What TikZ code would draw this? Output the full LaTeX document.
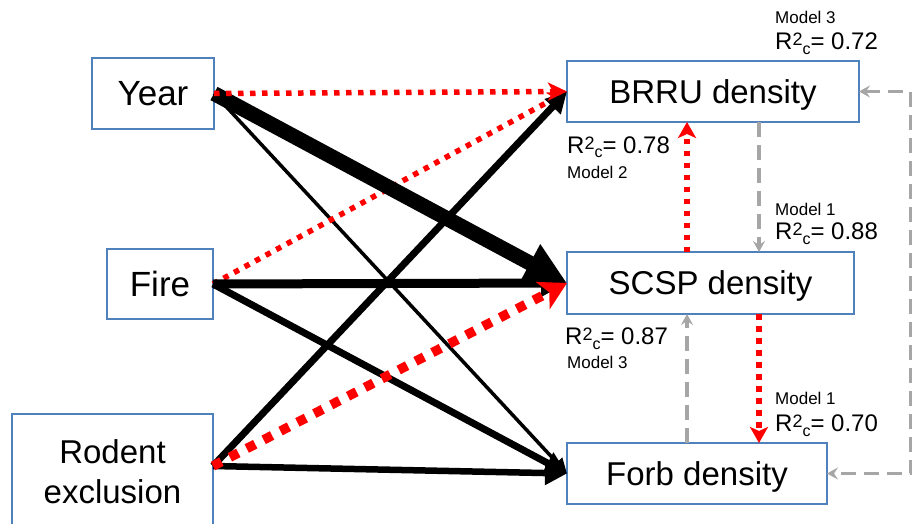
\documentclass[tikz,border=0pt]{standalone}
\usepackage{fontspec}
\setmainfont{Liberation Sans}
\usetikzlibrary{arrows.meta}
\definecolor{boxblue}{RGB}{79,129,189}
\definecolor{dashgray}{RGB}{166,166,166}
% conditional R^2 with the superscript 2 and subscript c side by side
\newcommand{\rcsq}[1]{R\raisebox{4pt}{\fontsize{18}{18}\selectfont 2}\raisebox{-5pt}{\fontsize{16}{16}\selectfont c}= #1}
\tikzset{
  graytip/.tip={Stealth[length=11pt,width=12pt,inset=4pt]},
  redtip/.tip={Stealth[length=19pt,width=18pt,inset=5pt]},
}
\begin{document}
\begin{tikzpicture}[x=1pt,y=-1pt,
  box/.style={draw=boxblue, line width=1.2pt, inner sep=0pt, outer sep=0pt},
  bigtxt/.style={font=\fontsize{33}{40}\selectfont, text height=23.6pt, text depth=0pt},
  hugetxt/.style={font=\fontsize{35}{42}\selectfont, text height=25pt, text depth=0pt},
  rlab/.style={anchor=base west, inner sep=0pt, font=\fontsize{24}{28}\selectfont},
  mlab/.style={anchor=base west, inner sep=0pt, font=\fontsize{17}{20}\selectfont},
  blk/.style={draw=black, line cap=butt},
  reddot/.style={draw=red, line width=5.5pt, dash pattern=on 5.5pt off 6.5pt, -redtip},
  redbig/.style={draw=red, line width=9.5pt, dash pattern=on 9.5pt off 9.5pt,
    -{Stealth[length=27pt,width=30pt,inset=7pt]}},
  graydash/.style={draw=dashgray, line width=3.5pt, dash pattern=on 15pt off 8pt},
]
\useasboundingbox (0,0) rectangle (912,524);

% driver boxes
\node[box, hugetxt, minimum width=122pt, minimum height=71pt] (year) at (153,93.5) {Year};
\node[box, hugetxt, minimum width=106pt, minimum height=70pt] (fire) at (160,284) {Fire};
\node[box, minimum width=201pt, minimum height=124pt] (rodent) at (112.5,476) {};
\node[font=\fontsize{33}{40}\selectfont, align=center, inner sep=0pt] (rodtext) at (112.5,472) {Rodent\\exclusion};

% response boxes
\node[box, bigtxt, minimum width=292pt, minimum height=61pt] (brru) at (713,91.5) {BRRU density};
\node[box, bigtxt, minimum width=287pt, minimum height=62pt] (scsp) at (710.5,283) {SCSP density};
\node[box, bigtxt, minimum width=260pt, minimum height=61pt] (forb) at (697,473.5) {Forb density};

% connector anchor points
\path (rodent.east) ++(0,-10) coordinate (rodout);
\coordinate (xa) at (687,0);
\coordinate (xb) at (759,0);
\coordinate (xr) at (911,0);

% positive (solid black) paths
\draw[blk, line width=3.5pt, -{Triangle[length=15pt,width=14pt]}] (year.east) -- (forb.west);
\draw[reddot] (fire.east) -- (brru.west);
\draw[blk, line width=7pt, -{Triangle[length=21pt,width=21pt]}] (rodout) -- (brru.west);
\draw[blk, line width=6.5pt, -{Triangle[length=22pt,width=23pt]}] (rodout) -- (forb.west);
\draw[blk, line width=7pt, -{Triangle[length=22pt,width=23pt]}] (fire.east) -- (forb.west);
\draw[blk, line width=9pt, -{Triangle[length=26pt,width=26pt]}] (fire.east) -- (scsp.west);
\draw[blk, line width=15pt, -{Triangle[length=42pt,width=40pt]}] (year.east) -- (scsp.west);

% negative (red dotted) paths
\draw[redbig] (rodout) -- (scsp.west);
\draw[reddot] (year.east) -- (brru.west);
\draw[reddot, -{Stealth[length=16pt,width=18pt,inset=4pt]}] (scsp.north -| xa) -- (brru.south -| xa);
\draw[reddot, -{Stealth[length=16pt,width=18pt,inset=4pt]}] (scsp.south -| xb) -- (forb.north -| xb);

% non-significant (grey dashed) paths
\draw[graydash, -graytip] (brru.south -| xb) -- (scsp.north -| xb);
\draw[graydash, -graytip] (forb.north -| xa) -- (scsp.south -| xa);
\draw[graydash, graytip-graytip] (brru.east) -- (brru.east -| xr) -- (forb.east -| xr) -- (forb.east);

% model fit labels
\node[mlab] (m3a) at (775,24) {Model 3};
\node[rlab] (r72) at (775,50) {\rcsq{0.72}};
\node[rlab] (r78) at (567,153) {\rcsq{0.78}};
\node[mlab] (m2) at (567,178) {Model 2};
\node[mlab] (m1a) at (775,215) {Model 1};
\node[rlab] (r88) at (775,239) {\rcsq{0.88}};
\node[rlab] (r87) at (565,344) {\rcsq{0.87}};
\node[mlab] (m3b) at (567,368) {Model 3};
\node[mlab] (m1b) at (775,404) {Model 1};
\node[rlab] (r70) at (775,431) {\rcsq{0.70}};
\end{tikzpicture}
\end{document}
